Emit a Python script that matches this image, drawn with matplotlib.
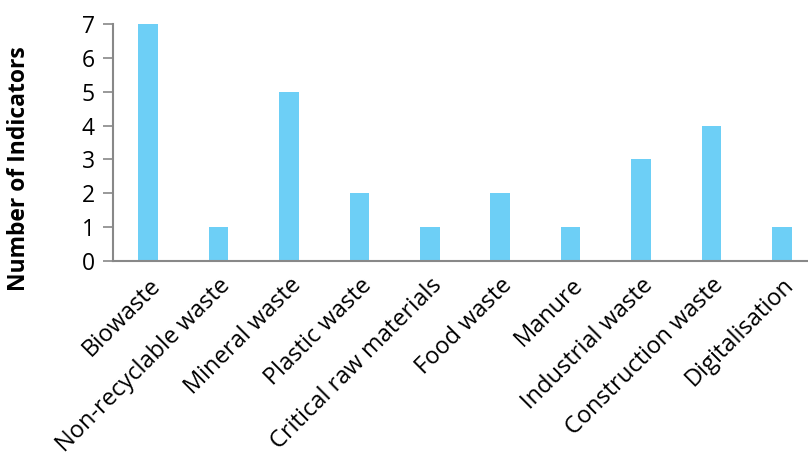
import matplotlib
matplotlib.use("Agg")
import matplotlib.pyplot as plt

categories = ["Biowaste", "Non-recyclable waste", "Mineral waste", "Plastic waste",
              "Critical raw materials", "Food waste", "Manure", "Industrial waste",
              "Construction waste", "Digitalisation"]
values = [7, 1, 5, 2, 1, 2, 1, 3, 4, 1]
yticks = [0, 1, 2, 3, 4, 5, 6, 7]

plt.rcParams['font.family'] = ['Open Sans', 'DejaVu Sans']

fig = plt.figure(figsize=(8.08, 4.57), dpi=100)
ax = fig.add_axes([113/808, 1-261/457, 704/808, 237/457])
ax.bar(range(len(categories)), values, width=0.28, color='#6DCFF6', zorder=2)
ax.set_xlim(-0.5, len(categories) - 0.5)
ax.set_ylim(0, 7)
ax.set_yticks(yticks)
ax.set_yticklabels([str(t) for t in yticks], fontsize=16.5)
ax.set_xticks(range(len(categories)))
ax.set_xticklabels(categories, rotation=45, ha='right', rotation_mode='anchor', fontsize=17)
ax.tick_params(axis='x', length=0, pad=9)
ax.tick_params(axis='y', length=7, width=1.2, color='#888888', pad=6)
for s in ['top', 'right']:
    ax.spines[s].set_visible(False)
for s in ['left', 'bottom']:
    ax.spines[s].set_color('#888888')
    ax.spines[s].set_linewidth(1.5)
ax.set_ylabel("Number of Indicators", fontsize=16.5, fontweight='bold')
ax.yaxis.set_label_coords((31 - 113) / 704, 0.39)
fig.savefig("out.png", dpi=100)
